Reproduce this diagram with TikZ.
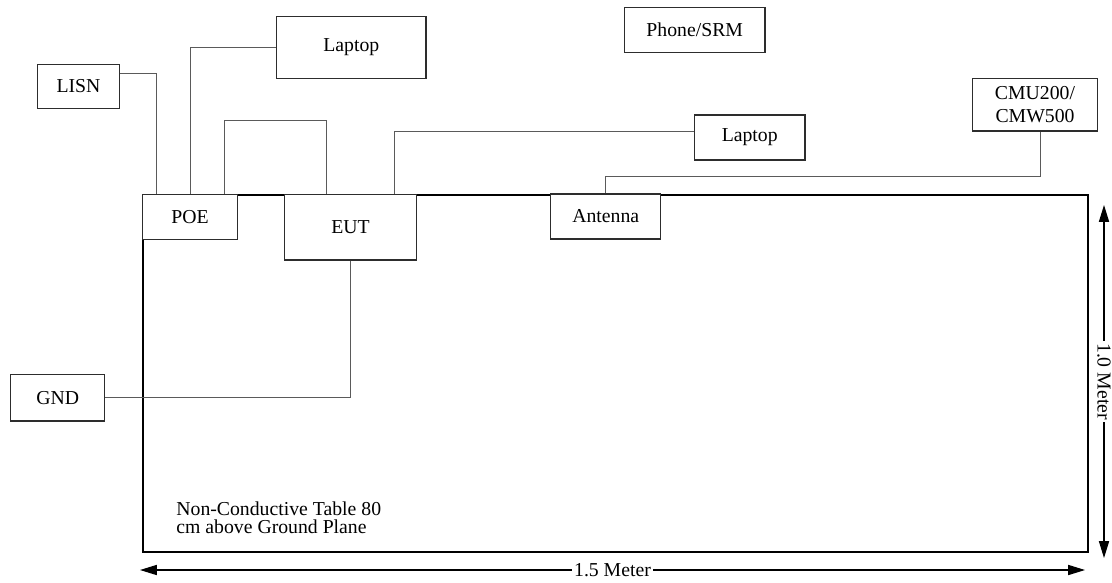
\documentclass[tikz,border=0pt]{standalone}
\usepackage{fontspec}
\setmainfont{Liberation Serif}
\usetikzlibrary{arrows.meta, positioning}
\definecolor{wGray}{RGB}{90,90,90}
\definecolor{bGray}{RGB}{45,45,45}
\tikzset{
  dev/.style={draw=bGray, fill=white, line width=0.6pt, align=center, inner sep=0pt},
  board/.style={draw=black, line width=1.3pt, inner sep=0pt},
  wire/.style={wGray, line width=0.5pt},
  dimline/.style={{Triangle[length=3mm,width=1.8mm]}-{Triangle[length=3mm,width=1.8mm]}, line width=0.6pt},
  dimtxt/.style={fill=white, inner sep=1pt},
}

\begin{document}
\begin{tikzpicture}[x=0.0178cm, y=-0.0178cm]
    \useasboundingbox (0,0) rectangle (1112,582);
    % table surface
    \node[board, minimum width=16.82cm, minimum height=6.355cm] (tbl) at (615.5,373.5) {};
    \node[anchor=north west, inner sep=0pt, align=left, font=\fontsize{10}{9.4}\selectfont]
      (note) at (176,501) {Non-Conductive Table 80\\cm above Ground Plane};
    % equipment
    \node[dev, minimum width=1.452cm, minimum height=0.783cm] (lisn)  at (78.5,86.3)   {LISN};
    \node[dev, minimum width=2.658cm, minimum height=1.096cm] (lap1)  at (351.3,47.5)  {Laptop};
    \node[dev, minimum width=1.686cm, minimum height=0.813cm] (poe)   at (190,217)     {POE};
    \node[dev, minimum width=2.357cm, minimum height=1.162cm] (eut)   at (350.5,227.3) {EUT};
    \node[dev, minimum width=2.504cm, minimum height=0.806cm] (phone) at (694.7,30)    {Phone/SRM};
    \node[dev, minimum width=1.970cm, minimum height=0.801cm] (lap2)  at (749.7,137.5) {Laptop};
    \node[dev, minimum width=1.958cm, minimum height=0.801cm] (ant)   at (605.7,216.5) {Antenna};
    \node[dev, minimum width=2.230cm, minimum height=0.938cm] (cmu)   at (1035,104.7)  {CMU200/\\CMW500};
    \node[dev, minimum width=1.673cm, minimum height=0.831cm] (gnd)   at (57.7,397.7)  {GND};
    % cables
    \draw[wire] ([yshift=2.3mm]lisn.east) -| ([xshift=2.6mm]poe.north west);
    \draw[wire] (lap1.west) -| (poe.north);
    \draw[wire] ([xshift=6.2mm]poe.north) -- ++(0,-73) -| ([xshift=-4.2mm]eut.north);
    \draw[wire] ([xshift=7.9mm]eut.north) |- ([yshift=1mm]lap2.west);
    \draw[wire] (ant.north) -- ++(0,-17) -| ([xshift=0.9mm]cmu.south);
    \draw[wire] (eut.south) |- (gnd.east);
    % dimensions
    \coordinate (bl) at (140,570);
    \coordinate (br) at (1085,570);
    \coordinate (rt) at (1104,205);
    \coordinate (rb) at (1104,558);
    \draw[dimline] (bl) -- (br) node[dimtxt, midway] (wlen) {1.5 Meter};
    \draw[dimline] (rt) -- (rb) node[dimtxt, midway, rotate=-90] (hlen) {1.0 Meter};
\end{tikzpicture}
\end{document}
